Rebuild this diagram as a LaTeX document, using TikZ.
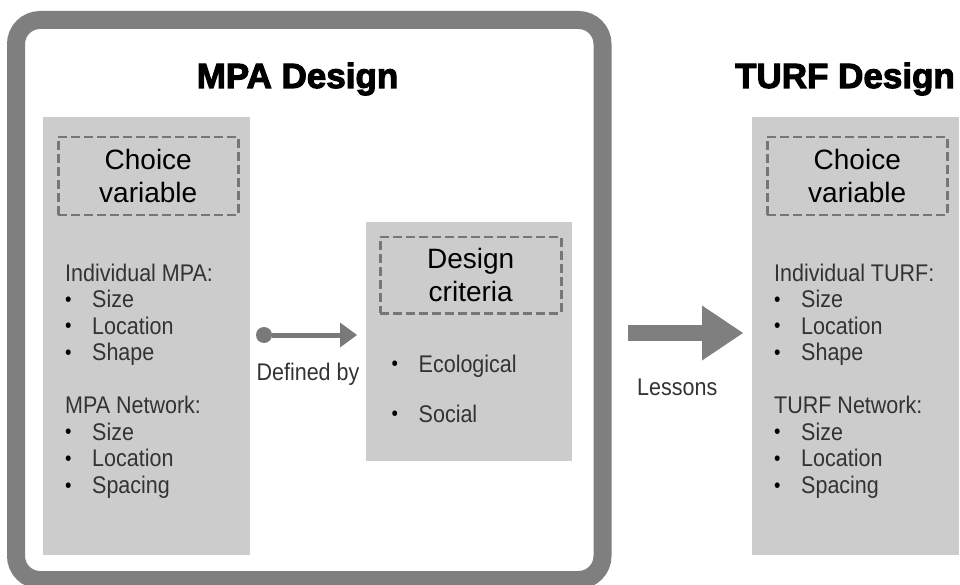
\documentclass[tikz,border=0pt]{standalone}
\usepackage{fontspec}
\setmainfont{Liberation Sans}
\newfontfamily\headfont[FakeBold=3]{Liberation Sans Bold}
\usepackage{tikz}
\usetikzlibrary{arrows.meta}
\usetikzlibrary{positioning}
\definecolor{framegray}{HTML}{7F7F7F}
\definecolor{boxgray}{HTML}{CCCCCC}
\definecolor{dashgray}{HTML}{767676}
\definecolor{textgray}{HTML}{333333}
\newcommand{\itm}[1]{\makebox[27pt][l]{\raisebox{0.06em}{\scalebox{0.85}{\textcolor{black}{\textbullet}}}}#1}
\tikzstyle{frame} = [rectangle, draw=framegray, line width=18pt, rounded corners=24pt, inner sep=0pt, outer sep=0pt]
\tikzstyle{panel} = [rectangle, fill=boxgray, inner sep=0pt, outer sep=0pt, anchor=north west]
\tikzstyle{varbox} = [rectangle, draw=dashgray, dash pattern=on 9pt off 4pt, line width=2.5pt,
   inner sep=0pt, align=center, minimum width=180pt, minimum height=78pt,
   font=\fontsize{28}{33}\selectfont]
\tikzstyle{title} = [font=\headfont\fontsize{35}{40}\selectfont, anchor=base, inner sep=0pt]
\tikzstyle{items} = [align=left, anchor=north west, inner sep=0pt, text=textgray,
   font=\fontsize{21.5}{23.7}\selectfont, yscale=1.12]
\tikzstyle{note} = [inner sep=0pt, text=textgray, font=\fontsize{21.5}{23.7}\selectfont, yscale=1.12]
\tikzstyle{link} = [{Circle[length=16pt,line width=0pt]}-{Triangle[length=17pt,width=25pt,line width=0pt]},
   draw=framegray!95!black, line width=5pt]
\tikzstyle{bigarrow} = [-{Triangle[length=41pt,width=55pt,line width=0pt]}, draw=framegray, line width=16pt]

\begin{document}
\begin{tikzpicture}[x=1pt, y=-1pt]
\useasboundingbox (0,0) rectangle (960,585);

\node (frame) [frame, minimum width=586.5pt, minimum height=560pt] at (309.25,300) {};

\node (mpa) [title] at (297.5,88) {MPA Design};
\node (turf) [title] at (845,88) {TURF Design};

% choice variable columns
\node (mpabox) [panel, minimum width=207pt, minimum height=438pt] at (43,117) {};
\node (turfbox) [panel, minimum width=207pt, minimum height=438pt] at (752,117) {};

\node (mpavar) [varbox, below right=19pt and 14pt of mpabox.north west] {Choice\\variable};
\node (turfvar) [varbox, below right=19pt and 14pt of turfbox.north west] {Choice\\variable};

\node (mpalist) [items] at (65,263.5) {Individual MPA:\\
   \itm{Size}\\ \itm{Location}\\ \itm{Shape}\\[23.7pt]
   MPA Network:\\
   \itm{Size}\\ \itm{Location}\\ \itm{Spacing}};

\node (turflist) [items] at (774,263.5) {Individual TURF:\\
   \itm{Size}\\ \itm{Location}\\ \itm{Shape}\\[23.7pt]
   TURF Network:\\
   \itm{Size}\\ \itm{Location}\\ \itm{Spacing}};

% design criteria
\node (critbox) [panel, minimum width=206pt, minimum height=239pt] at (366,222) {};
\node (crit) [varbox, minimum width=181pt, minimum height=76pt,
   below right=14pt and 13pt of critbox.north west] {Design\\criteria};
\node (critlist) [items] at (391.5,354.5) {\itm{Ecological}\\[21pt] \itm{Social}};

\draw [link, shorten <=6pt, shorten >=9pt] ([yshift=1pt]mpabox.east) -- ([yshift=1pt]mpabox.east -| critbox.west)
   node (defby) [note, midway, below=25pt] {Defined by};

\draw [bigarrow, shorten <=25.5pt, shorten >=9pt] ([yshift=-33pt]frame.east) -- ([yshift=-33pt]frame.east -| turfbox.west)
   node (lessons) [note, midway, below=37pt] {Lessons};

\end{tikzpicture}
\end{document}
